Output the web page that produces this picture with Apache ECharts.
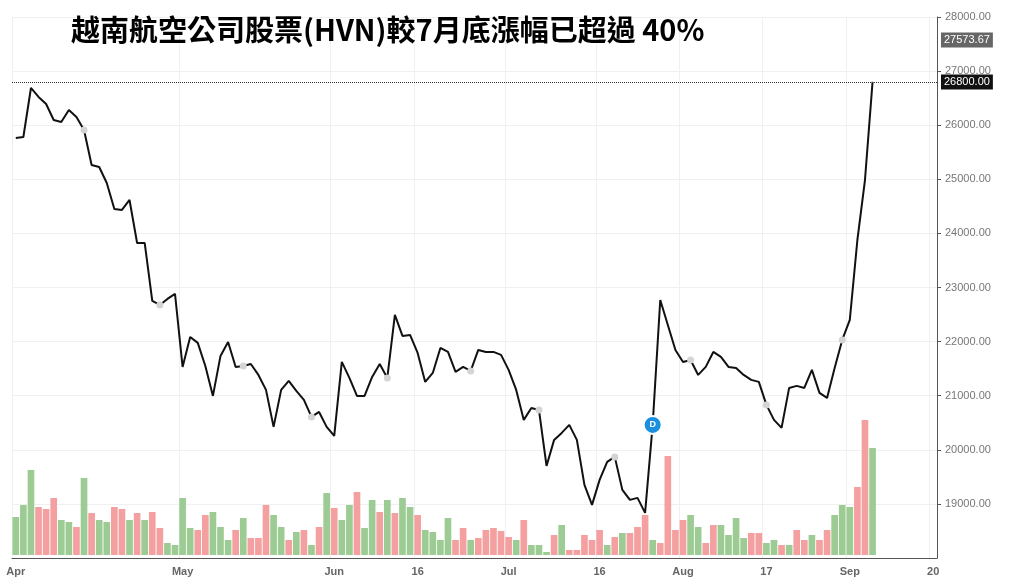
<!DOCTYPE html>
<html>
<head>
<meta charset="UTF-8">
<script src="https://cdn.jsdelivr.net/npm/echarts@6/dist/echarts.min.js"></script>
<style>html,body{margin:0;background:#fff}#c{width:1024px;height:583px}</style>
</head>
<body>
<div id="c"></div>
<script>
var closes = [25764,25782,26688,26522,26392,26097,26060,26282,26152,25912,
  25265,25228,24932,24452,24433,24618,23823,23823,22751,22678,
  22789,22881,21532,22086,21976,21550,20996,21735,21994,21532,
  21550,21587,21384,21107,20423,21107,21273,21088,20922,20608,
  20700,20423,20257,21624,21329,20996,20996,21347,21587,21329,
  22493,22105,22123,21790,21255,21421,21883,21809,21440,21532,
  21458,21846,21809,21809,21754,21477,21107,20553,20774,20737,
  19702,20183,20312,20460,20183,19351,18982,19444,19776,19869,
  19259,19074,19111,18834,20460,22770,22308,21846,21624,21661,
  21384,21532,21809,21717,21532,21513,21384,21292,21255,20830,
  20553,20405,21144,21181,21144,21477,21052,20959,21513,22031,
  22400,23878,24987,26800];
// volume (10k shares) and direction: 1 up (green), 0 down (red)
var volumes = [38,50,85,48,46,57,35,33,28,77,
  42,35,33,48,46,35,42,35,43,27,
  12,10,57,27,25,40,43,28,15,25,
  37,17,17,50,40,28,15,23,25,10,
  28,62,47,35,50,63,27,55,43,55,
  42,57,48,40,25,23,15,37,15,27,
  15,17,25,27,24,18,15,35,10,10,
  3,20,30,5,5,20,15,25,10,18,
  22,22,28,40,15,12,99,25,35,40,28,12,
  30,30,20,37,17,22,22,12,15,10,
  10,25,15,20,15,25,40,50,48,68,135,107];
var ups = [1,1,1,0,0,0,1,1,0,1,
  0,1,1,0,0,1,0,1,0,0,
  1,1,1,1,0,0,1,1,1,0,
  1,0,0,0,1,1,0,1,0,1,
  0,1,0,1,1,0,1,1,0,1,
  0,1,1,0,1,1,1,1,0,0,
  1,0,0,0,0,0,1,0,1,1,
  1,0,1,0,0,0,0,0,1,0,
  1,0,0,0,1,0,0,0,0,1,1,0,
  0,1,1,1,1,0,0,1,1,0,
  1,0,0,1,0,0,1,1,1,0,0,1];
var tickIdx = [0,22,42,53,65,77,88,99,110,121];
var tickText = ['Apr','May','Jun','16','Jul','16','Aug','17','Sep','20'];
var nCats = 122;

var cats = [];
for (var i = 0; i < nCats; i++) cats.push('');
tickIdx.forEach(function (k, j) { cats[k] = tickText[j]; });

var dotIdx = [9,19,30,39,49,60,69,79,89,99,109];
var lineData = closes.map(function (v, i) {
  if (dotIdx.indexOf(i) >= 0) return {value: v, symbol: 'circle', symbolSize: 7, itemStyle: {color: '#d4d4d4'}};
  return v;
});
var volData = volumes.map(function (v, i) {
  return {value: v, itemStyle: {color: ups[i] ? '#9ccc94' : '#f4a0a0'}};
});

var chart = echarts.init(document.getElementById('c'));
chart.setOption({
  animation: false,
  title: {text: '越南航空公司股票(HVN)較7月底漲幅已超過 40%', left: 66, top: 10,
    textStyle: {fontFamily: 'Noto Sans CJK TC', fontSize: 29, fontWeight: 'bold', color: '#000'}},
  grid: [
    {left: 12, right: 87, top: 17, bottom: 25},
    {left: 12, right: 87, top: 0, bottom: 28}
  ],
  xAxis: [
    {type: 'category', data: cats, gridIndex: 0, boundaryGap: true,
      axisLine: {lineStyle: {color: '#555'}}, axisTick: {show: false},
      axisLabel: {interval: 0, color: '#666', fontWeight: 'bold', fontSize: 11, fontFamily: 'Liberation Sans'},
      splitLine: {show: true, interval: function (i) { return tickIdx.indexOf(i) >= 0; }, lineStyle: {color: '#f0f0f0'}}},
    {type: 'category', data: cats, gridIndex: 1, boundaryGap: true, show: false}
  ],
  yAxis: [
    {type: 'value', gridIndex: 0, position: 'right', min: 18000, max: 28000, interval: 1000,
      axisLine: {show: true, lineStyle: {color: '#555'}}, axisTick: {show: true, length: 4},
      axisLabel: {showMinLabel: false, color: '#777', fontSize: 11, fontFamily: 'Liberation Sans',
        formatter: function (v) { return v.toFixed(2); }},
      splitLine: {lineStyle: {color: '#f0f0f0'}}},
    {type: 'value', gridIndex: 1, min: 0, max: 555, show: false, splitLine: {show: false}}
  ],
  series: [
    {type: 'bar', xAxisIndex: 1, yAxisIndex: 1, data: volData, barCategoryGap: '12%', z: 1},
    {type: 'line', xAxisIndex: 0, yAxisIndex: 0, data: lineData, showSymbol: true, symbol: 'none',
      lineStyle: {color: '#111', width: 2}, z: 3,
      markPoint: {symbol: 'circle', symbolSize: 18,
        itemStyle: {color: '#1a8fe0', borderColor: '#fff', borderWidth: 2},
        label: {show: true, formatter: 'D', color: '#fff', fontSize: 9, fontWeight: 'bold'},
        data: [{coord: [84, 20460]}]},
      markLine: {symbol: 'none', silent: true, labelLayout: {hideOverlap: false},
        data: [
          {yAxis: 26800, lineStyle: {color: '#333', type: 'dotted', width: 1},
            label: {position: 'end', formatter: '26800.00', backgroundColor: '#111', color: '#fff', fontSize: 11, padding: [2, 3], distance: 4}},
          {yAxis: 27573.67, lineStyle: {color: 'rgba(0,0,0,0)', width: 0},
            label: {position: 'end', formatter: '27573.67', backgroundColor: '#666', color: '#fff', fontSize: 11, padding: [2, 3], distance: 4}}
        ]}}
  ]
});
</script>
</body>
</html>
